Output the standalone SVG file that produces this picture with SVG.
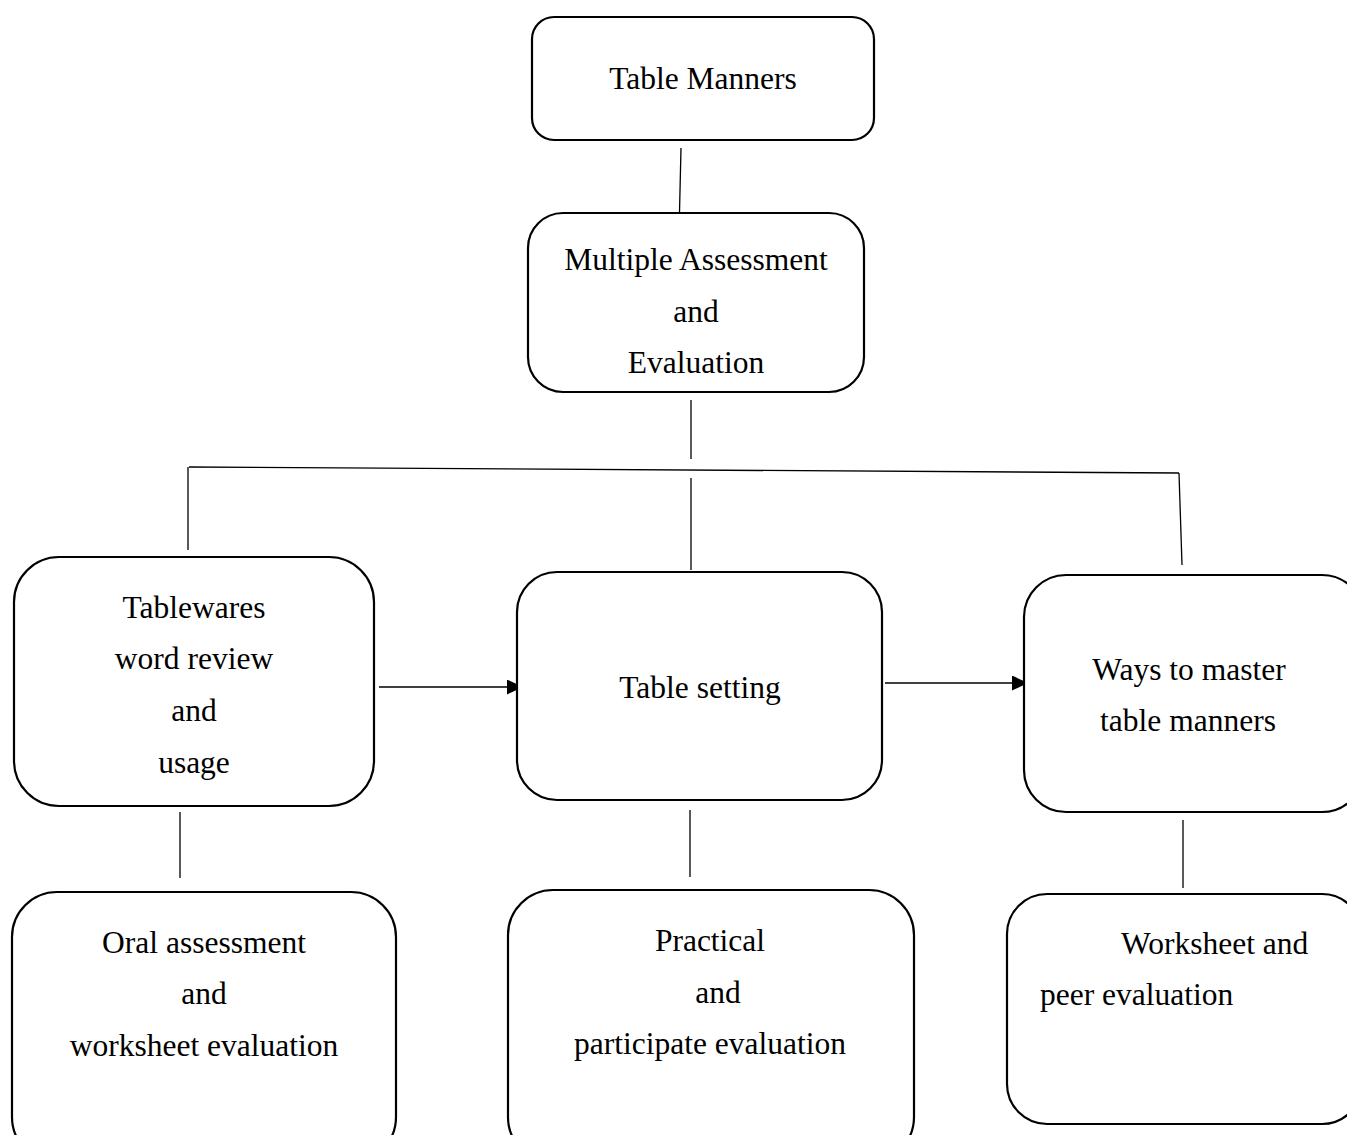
<svg xmlns="http://www.w3.org/2000/svg" width="1347" height="1135" viewBox="0 0 1347 1135">
<style>
.box{fill:#fff;stroke:#000;stroke-width:2.2}
.t{font-family:"Liberation Serif","Times New Roman",serif;font-size:31.5px;fill:#000;text-anchor:middle}
.s{font-family:"Liberation Serif","Times New Roman",serif;font-size:31.5px;fill:#000}
.c{stroke:#000;stroke-width:1.3;fill:none}
</style>
<defs>
<marker id="ah" markerWidth="16" markerHeight="15" refX="16" refY="7.5" orient="auto" markerUnits="userSpaceOnUse">
<path d="M0,0 L16,7.5 L0,15 Z" fill="#000"/>
</marker>
</defs>
<rect width="1347" height="1135" fill="#fff"/>
<g id="connectors">
<line class="c" x1="681" y1="148" x2="679.5" y2="212"/>
<line class="c" x1="691" y1="400" x2="691" y2="459"/>
<line class="c" x1="189" y1="467" x2="1179" y2="473"/>
<line class="c" x1="188" y1="467" x2="188" y2="550"/>
<line class="c" x1="691" y1="478" x2="691" y2="570"/>
<line class="c" x1="1179" y1="473" x2="1182" y2="565"/>
<line class="c" x1="379" y1="687" x2="523" y2="687" marker-end="url(#ah)"/>
<line class="c" x1="885" y1="683" x2="1028" y2="683" marker-end="url(#ah)"/>
<line class="c" x1="180" y1="812" x2="180" y2="878"/>
<line class="c" x1="690" y1="810" x2="690" y2="877"/>
<line class="c" x1="1183" y1="820" x2="1183" y2="888"/>
</g>
<g id="n-table-manners">
<rect class="box" x="532" y="17" width="342" height="123" rx="22"/>
<text class="t" x="703" y="89">Table Manners</text>
</g>
<g id="n-multiple">
<rect class="box" x="528" y="213" width="336" height="179" rx="35"/>
<text class="t" x="696" y="270">Multiple Assessment</text>
<text class="t" x="696" y="322">and</text>
<text class="t" x="696" y="373">Evaluation</text>
</g>
<g id="n-tablewares">
<rect class="box" x="14" y="557" width="360" height="249" rx="45"/>
<text class="t" x="194" y="618">Tablewares</text>
<text class="t" x="194" y="669">word review</text>
<text class="t" x="194" y="721">and</text>
<text class="t" x="194" y="773">usage</text>
</g>
<g id="n-table-setting">
<rect class="box" x="517" y="572" width="365" height="228" rx="40"/>
<text class="t" x="700" y="698">Table setting</text>
</g>
<g id="n-ways">
<rect class="box" x="1024" y="575" width="340" height="237" rx="42"/>
<text class="t" x="1189" y="680">Ways to master</text>
<text class="t" x="1188" y="731">table manners</text>
</g>
<g id="n-oral">
<rect class="box" x="12" y="892" width="384" height="270" rx="45"/>
<text class="t" x="204" y="953">Oral assessment</text>
<text class="t" x="204" y="1004">and</text>
<text class="t" x="204" y="1056">worksheet evaluation</text>
</g>
<g id="n-practical">
<rect class="box" x="508" y="890" width="406" height="272" rx="45"/>
<text class="t" x="710" y="951">Practical</text>
<text class="t" x="718" y="1003">and</text>
<text class="t" x="710" y="1054">participate evaluation</text>
</g>
<g id="n-worksheet">
<rect class="box" x="1007" y="894" width="355" height="230" rx="40"/>
<text class="s" x="1121" y="954">Worksheet and</text>
<text class="s" x="1040" y="1005">peer evaluation</text>
</g>
</svg>
